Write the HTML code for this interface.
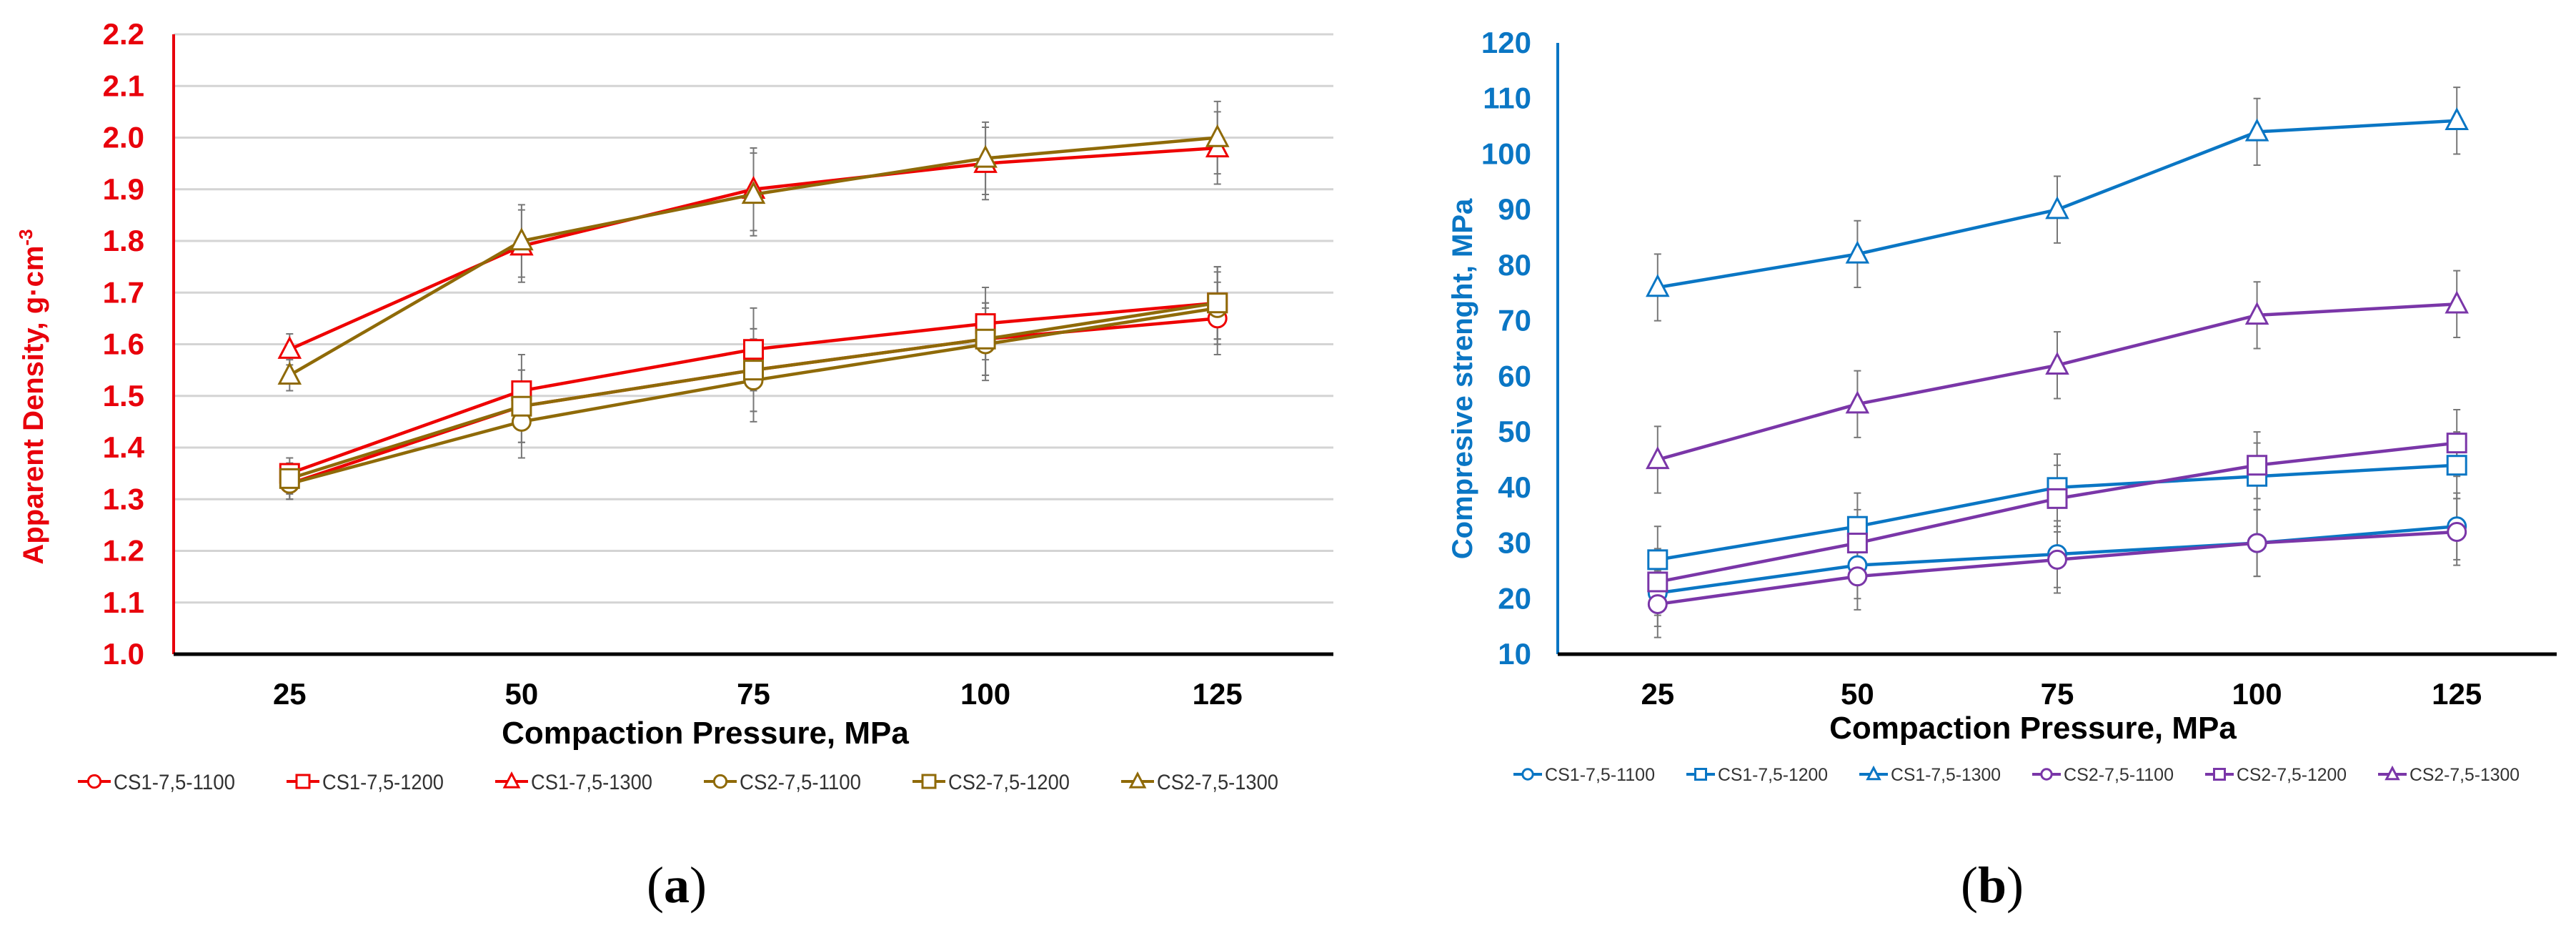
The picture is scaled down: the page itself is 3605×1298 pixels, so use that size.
<!DOCTYPE html>
<html><head><meta charset="utf-8"><style>
html,body{margin:0;padding:0;background:#fff;}
svg{display:block;}
text{font-family:"Liberation Sans Narrow","Liberation Sans",sans-serif;}
</style></head><body>
<svg id="fig" width="3605" height="1298" viewBox="0 0 3605 1298" xmlns="http://www.w3.org/2000/svg">
<rect width="3605" height="1298" fill="#fff"/>
<g id="chartA"></g>
<g id="chartB"></g>
<text x="947" y="1262" font-size="72" text-anchor="middle" style="font-family:'Liberation Serif',serif">(<tspan font-weight="bold">a</tspan>)</text>
<text x="2788" y="1262" font-size="72" text-anchor="middle" style="font-family:'Liberation Serif',serif">(<tspan font-weight="bold">b</tspan>)</text>
</svg>
<script>
const categories = ["25","50","75","100","125"];
const seriesNames = ["CS1-7,5-1100","CS1-7,5-1200","CS1-7,5-1300","CS2-7,5-1100","CS2-7,5-1200","CS2-7,5-1300"];
const markerKinds = ["circle","square","triangle","circle","square","triangle"];
// Chart A: apparent density
const densCS1_1100 = [1.33,1.48,1.55,1.61,1.65];
const densCS1_1200 = [1.35,1.51,1.59,1.64,1.68];
const densCS1_1300 = [1.59,1.79,1.90,1.95,1.98];
const densCS2_1100 = [1.33,1.45,1.53,1.60,1.67];
const densCS2_1200 = [1.34,1.48,1.55,1.61,1.68];
const densCS2_1300 = [1.54,1.80,1.89,1.96,2.00];
const densErr = [0.03,0.07,0.08,0.07,0.07];
const densTicks = ["1.0","1.1","1.2","1.3","1.4","1.5","1.6","1.7","1.8","1.9","2.0","2.1","2.2"];
// Chart B: compressive strength
const strCS1_1100 = [21,26,28,30,33];
const strCS1_1200 = [27,33,40,42,44];
const strCS1_1300 = [76,82,90,104,106];
const strCS2_1100 = [19,24,27,30,32];
const strCS2_1200 = [23,30,38,44,48];
const strCS2_1300 = [45,55,62,71,73];
const strErr = [6,6,6,6,6];
const strTicks = ["10","20","30","40","50","60","70","80","90","100","110","120"];

const NS = "http://www.w3.org/2000/svg";
function mk(tag, attrs, parent){const e=document.createElementNS(NS,tag);for(const k in attrs)e.setAttribute(k,attrs[k]);parent.appendChild(e);return e;}

function marker(g, kind, cx, cy, color, s){
  let e;
  if(kind==="circle") e=mk("circle",{cx:cx,cy:cy,r:s*0.48,fill:"#fff",stroke:color,"stroke-width":3},g);
  else if(kind==="square") e=mk("rect",{x:cx-s/2,y:cy-s/2,width:s,height:s,fill:"#fff",stroke:color,"stroke-width":3},g);
  else e=mk("polygon",{points:`${cx},${cy-s*0.6} ${cx+s*0.55},${cy+s*0.45} ${cx-s*0.55},${cy+s*0.45}`,fill:"#fff",stroke:color,"stroke-width":3},g);
  return e;
}

function drawChart(cfg){
  const g=document.getElementById(cfg.id);
  const n=categories.length, cw=(cfg.x1-cfg.x0)/n;
  const xs=i=>cfg.x0+cw*(i+0.5);
  const ys=v=>cfg.yb-(v-cfg.vmin)/(cfg.vmax-cfg.vmin)*(cfg.yb-cfg.yt);
  // grid
  cfg.ticks.forEach((t,i)=>{
    const y=ys(parseFloat(t));
    if(cfg.grid && i>0){
      const l=mk("line",{x1:cfg.x0,x2:cfg.x1,y1:y,y2:y,stroke:"#d4d4d4","stroke-width":3},g);
      
      
    }
    const tx=mk("text",{x:cfg.tickRight,y:y+14,"font-size":42,"font-weight":"bold","text-anchor":"end",fill:cfg.axisColor},g);
    tx.textContent=t;
    
    
  });
  const ya=mk("line",{x1:cfg.x0,x2:cfg.x0,y1:cfg.yt,y2:cfg.yb,stroke:cfg.axisColor,"stroke-width":4},g);
  
  
  const xa=mk("line",{x1:cfg.x0,x2:cfg.x1,y1:cfg.yb,y2:cfg.yb,stroke:"#000","stroke-width":5},g);
  
  
  categories.forEach((c,i)=>{
    const t=mk("text",{x:xs(i),y:cfg.yb+70,"font-size":42,"font-weight":"bold","text-anchor":"middle",fill:"#000"},g);
    t.textContent=c;
    
    
  });
  const xt=mk("text",{x:cfg.xTitleX,y:cfg.xTitleY,"font-size":44,"font-weight":"bold","text-anchor":"middle",fill:"#000"},g);
  xt.textContent="Compaction Pressure, MPa";
  
  
  const yt=mk("text",{x:0,y:0,"font-size":40,"font-weight":"bold","text-anchor":"middle",fill:cfg.axisColor,transform:`translate(${cfg.yTitleX},${cfg.yTitleY}) rotate(-90)`,style:"font-family:'Liberation Sans',sans-serif"},g);
  yt.innerHTML=cfg.yTitle;
  
  
  // error bars
  cfg.series.forEach((s,si)=>{
    s.forEach((v,i)=>{
      const e=cfg.err[i], x=xs(i);
      const eb=mk("path",{d:`M${x},${ys(v+e)}V${ys(v-e)}M${x-5},${ys(v+e)}h10M${x-5},${ys(v-e)}h10`,stroke:"#777","stroke-width":2,fill:"none"},g);
      
      
    });
  });
  // lines and markers
  cfg.series.forEach((s,si)=>{
    const col=cfg.colors[si];
    const p=mk("polyline",{points:s.map((v,i)=>xs(i)+","+ys(v)).join(" "),fill:"none",stroke:col,"stroke-width":4.5},g);
    
    
    s.forEach((v,i)=>{
      const m=marker(g,markerKinds[si],xs(i),ys(v),col,26);
      
      
    });
  });
  // legend
  seriesNames.forEach((nm,si)=>{
    const lx=cfg.legX0+si*cfg.legStep, ly=cfg.legY;
    const lg=mk("g",{},g);
    
    
    mk("line",{x1:lx,x2:lx+cfg.legLine,y1:ly,y2:ly,stroke:cfg.colors[si],"stroke-width":4},lg);
    marker(lg,markerKinds[si],lx+cfg.legLine/2,ly,cfg.colors[si],cfg.legMk);
    const t=mk("text",{x:lx+cfg.legLine+4,y:ly+cfg.legFs*0.36,"font-size":cfg.legFs,fill:"#333",textLength:cfg.legTextW,lengthAdjust:"spacingAndGlyphs"},lg);
    t.textContent=nm;
  });
}

drawChart({id:"chartA",x0:243,x1:1866,yt:48,yb:915,vmin:1.0,vmax:2.2,ticks:densTicks,grid:true,
  axisColor:"#e8000b",tickRight:202,
  series:[densCS1_1100,densCS1_1200,densCS1_1300,densCS2_1100,densCS2_1200,densCS2_1300],err:densErr,
  colors:["#ee0000","#ee0000","#ee0000","#8f6a08","#8f6a08","#8f6a08"],
  xTitleX:987,xTitleY:1040,yTitleX:60,yTitleY:555,
  yTitle:'Apparent Density, g·cm<tspan baseline-shift="super" font-size="26">-3</tspan>',
  legX0:109,legStep:292,legY:1093,legLine:46,legMk:18,legFs:30,legTextW:170});

drawChart({id:"chartB",x0:2180,x1:3578,yt:60,yb:915,vmin:10,vmax:120,ticks:strTicks,grid:false,
  axisColor:"#0a76c4",tickRight:2143,
  series:[strCS1_1100,strCS1_1200,strCS1_1300,strCS2_1100,strCS2_1200,strCS2_1300],err:strErr,
  colors:["#0a76c4","#0a76c4","#0a76c4","#7a36a8","#7a36a8","#7a36a8"],
  xTitleX:2845,xTitleY:1033,yTitleX:2060,yTitleY:530,
  yTitle:'Compresive strenght, MPa',
  legX0:2118,legStep:242,legY:1083,legLine:40,legMk:15,legFs:25,legTextW:154});
</script>
</body></html>
